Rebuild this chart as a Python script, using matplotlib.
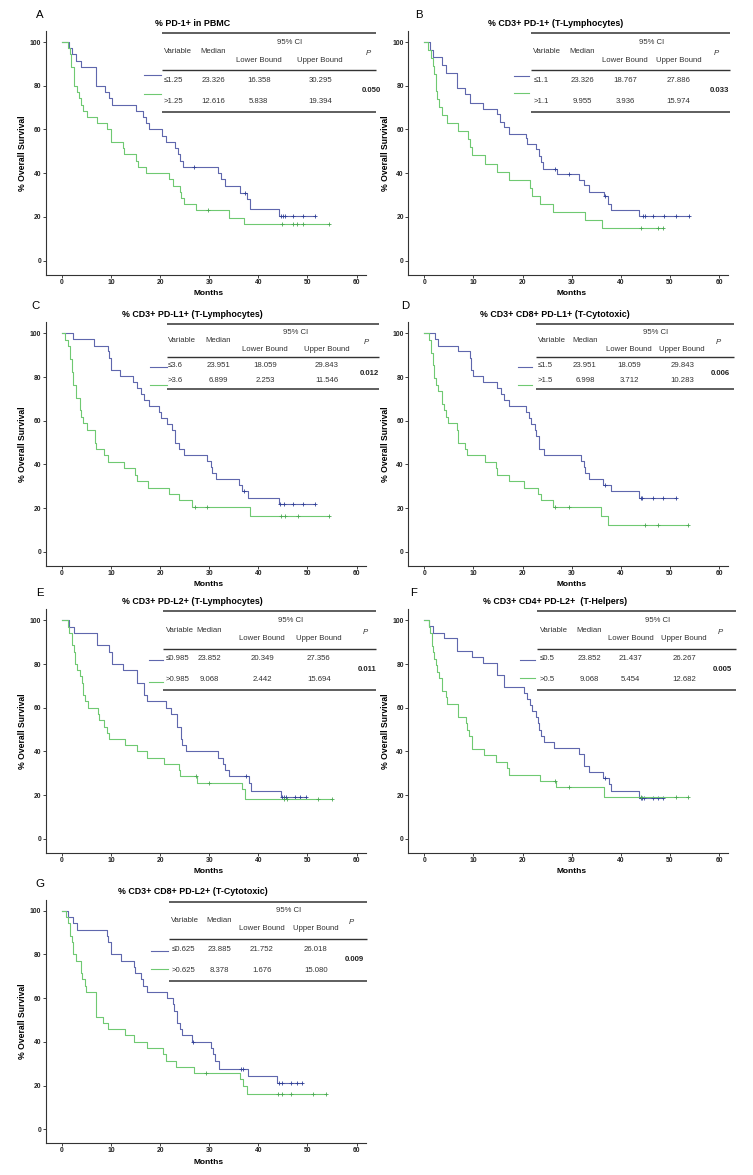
import numpy as np
import matplotlib.pyplot as plt

plt.rcParams['font.family'] = ['Liberation Sans', 'DejaVu Sans']

BLUE = '#5f67ad'
BLUE_DARK = '#2f3f96'
GREEN = '#6fc972'
GREEN_DARK = '#4aa852'

# ---------------- A: % PD-1+ in PBMC
a_title = '% PD-1+ in PBMC'
a_lo_t = [1.5, 2.0, 3.0, 3.9, 7.0, 8.9, 9.7, 10.2, 15.1, 16.5, 17.2, 17.7, 20.4, 21.3, 23.1,
          23.7, 24.0, 24.7, 31.8, 32.5, 33.2, 36.3, 37.6, 38.3, 44.3]
a_lo_s = [97.1, 94.3, 91.4, 88.6, 80.0, 77.1, 74.3, 71.4, 68.6, 65.7, 62.9, 60.0, 57.1, 54.3, 51.4,
          48.6, 45.7, 42.9, 40.0, 37.1, 34.0, 31.0, 28.0, 23.5, 20.5]
a_lo_cens = [26.9, 37.2, 44.6, 45.1, 45.4, 47.0, 49.0, 51.5]
a_hi_t = [1.2, 1.6, 1.8, 2.4, 3.1, 3.5, 3.9, 4.4, 5.1, 7.2, 9.3, 10.0, 12.4, 12.6, 15.1, 15.5,
          17.2, 21.8, 22.6, 24.0, 24.3, 24.9, 27.3, 34.1, 37.0]
a_hi_s = [97.1, 94.3, 88.6, 80.0, 77.1, 74.3, 71.4, 68.6, 65.7, 62.9, 60.0, 54.3, 51.4, 48.6, 45.7,
          42.9, 40.0, 37.1, 34.3, 31.4, 28.6, 25.7, 22.9, 19.5, 16.5]
a_hi_cens = [29.8, 44.8, 47.0, 47.9, 49.1, 54.3]
a_rows = [['≤1.25', '23.326', '16.358', '30.295'], ['>1.25', '12.616', '5.838', '19.394']]
a_p = '0.050'

# ---------------- B: % CD3+ PD-1+ (T-Lymphocytes)
b_title = '% CD3+ PD-1+ (T-Lymphocytes)'
b_lo_t = [1.1, 1.8, 3.7, 4.4, 6.6, 8.3, 9.4, 11.9, 14.9, 15.4, 16.3, 17.3, 20.7, 21.0, 22.8,
          23.4, 23.7, 24.1, 27.1, 31.5, 32.5, 33.6, 36.5, 37.4, 38.0, 43.7]
b_lo_s = [96.5, 93.0, 89.5, 86.0, 79.0, 76.0, 72.1, 69.5, 67.0, 63.5, 61.0, 58.0, 56.0, 53.5, 51.0,
          48.0, 45.0, 42.0, 39.5, 37.0, 34.5, 31.5, 29.5, 26.0, 23.0, 20.4]
b_lo_cens = [26.6, 29.4, 36.8, 44.6, 44.9, 46.6, 48.7, 51.2, 53.9]
b_hi_t = [0.7, 1.4, 1.7, 2.0, 2.4, 2.7, 3.05, 3.7, 4.7, 6.8, 9.0, 9.3, 9.7, 12.3, 14.8, 17.2,
          21.5, 22.0, 23.5, 26.1, 32.7, 36.1]
b_hi_s = [96.3, 92.6, 88.9, 85.2, 77.8, 74.1, 70.4, 66.7, 63.0, 59.3, 55.6, 51.9, 48.1, 44.4, 40.7,
          37.0, 33.3, 29.6, 25.9, 22.2, 18.5, 14.8]
b_hi_cens = [44.1, 47.5, 48.6]
b_rows = [['≤1.1', '23.326', '18.767', '27.886'], ['>1.1', '9.955', '3.936', '15.974']]
b_p = '0.033'

# ---------------- C: % CD3+ PD-L1+ (T-Lymphocytes)
c_title = '% CD3+ PD-L1+ (T-Lymphocytes)'
c_lo_t = [2.3, 6.6, 9.4, 9.6, 10.0, 11.9, 14.6, 15.3, 16.2, 16.7, 17.7, 19.7, 20.1, 21.4, 22.5,
          23.0, 23.1, 23.8, 24.8, 29.6, 30.3, 30.6, 31.3, 36.1, 36.6, 37.9, 44.2]
c_lo_s = [97.2, 94.4, 91.7, 88.9, 83.3, 80.6, 77.8, 75.0, 72.2, 69.4, 66.7, 63.9, 61.1, 58.3, 55.6,
          52.8, 50.0, 47.2, 44.4, 41.7, 38.9, 36.1, 33.3, 30.6, 27.8, 24.5, 21.7]
c_lo_cens = [37.1, 44.5, 45.3, 47.0, 49.1, 51.5]
c_hi_t = [0.6, 1.3, 1.6, 2.0, 2.3, 3.0, 3.7, 4.0, 4.4, 5.1, 6.8, 7.0, 8.5, 9.4, 12.6, 14.9, 15.3,
          17.5, 21.8, 23.8, 26.6, 38.3]
c_hi_s = [97.1, 94.1, 88.2, 82.4, 76.5, 70.6, 64.7, 61.8, 58.8, 55.9, 50.0, 47.1, 44.1, 41.2, 38.2,
          35.3, 32.4, 29.4, 26.5, 23.5, 20.6, 16.5]
c_hi_cens = [27.1, 29.6, 44.6, 45.5, 48.1, 54.4]
c_rows = [['≤3.6', '23.951', '18.059', '29.843'], ['>3.6', '6.899', '2.253', '11.546']]
c_p = '0.012'

# ---------------- D: % CD3+ CD8+ PD-L1+ (T-Cytotoxic)
d_title = '% CD3+ CD8+ PD-L1+ (T-Cytotoxic)'
d_lo_t = [2.2, 2.9, 6.8, 9.3, 9.6, 10.0, 11.9, 14.9, 15.6, 16.3, 17.3, 20.7, 21.4, 21.7, 22.6,
          22.8, 23.3, 23.4, 24.4, 31.9, 32.5, 32.8, 33.6, 36.3, 38.0, 43.7]
d_lo_s = [97.2, 94.4, 91.7, 88.9, 83.3, 80.6, 77.8, 75.0, 72.2, 69.4, 66.7, 63.9, 61.1, 58.3, 55.6,
          52.8, 50.0, 47.2, 44.4, 41.7, 38.9, 36.1, 33.3, 30.6, 27.8, 24.5]
d_lo_cens = [36.7, 44.1, 44.4, 46.6, 48.6, 51.2]
d_hi_t = [1.0, 1.4, 1.7, 2.0, 2.4, 2.9, 3.7, 4.1, 4.4, 4.9, 6.6, 6.8, 8.3, 8.7, 12.3, 14.7, 14.9,
          17.2, 20.2, 23.2, 23.7, 26.2, 35.9, 37.4]
d_hi_s = [97.1, 91.2, 85.3, 79.4, 76.5, 73.5, 67.6, 64.7, 61.8, 58.8, 55.9, 50.0, 47.1, 44.1, 41.2,
          38.2, 35.3, 32.4, 29.4, 26.5, 23.5, 20.6, 16.5, 12.4]
d_hi_cens = [26.6, 29.4, 45.0, 47.5, 53.7]
d_rows = [['≤1.5', '23.951', '18.059', '29.843'], ['>1.5', '6.998', '3.712', '10.283']]
d_p = '0.006'

# ---------------- E: % CD3+ PD-L2+ (T-Lymphocytes)
e_title = '% CD3+ PD-L2+ (T-Lymphocytes)'
e_lo_t = [1.4, 2.4, 7.1, 9.6, 10.3, 12.5, 15.4, 16.7, 17.4, 21.3, 22.2, 23.4, 24.2, 24.5, 25.2,
          31.8, 32.9, 33.2, 34.0, 38.1, 38.6, 44.7]
e_lo_s = [97.1, 94.3, 88.6, 85.7, 80.0, 77.1, 71.4, 65.7, 62.9, 60.0, 57.1, 51.4, 45.7, 42.9, 40.0,
          37.1, 34.3, 31.4, 28.6, 25.7, 22.1, 19.0]
e_lo_cens = [37.4, 44.9, 45.3, 45.7, 47.5, 48.4, 49.6]
e_hi_t = [1.2, 1.5, 2.0, 2.4, 2.6, 3.2, 3.7, 4.1, 4.4, 4.7, 5.4, 7.3, 7.5, 8.6, 9.3, 9.6, 12.8,
          15.4, 17.4, 20.8, 23.9, 24.1, 27.5, 36.7, 37.2]
e_hi_s = [97.1, 94.3, 88.6, 85.7, 80.0, 77.1, 74.3, 71.4, 65.7, 62.9, 60.0, 57.1, 54.3, 51.4, 48.6,
          45.7, 42.9, 40.0, 37.1, 34.3, 31.4, 28.6, 25.7, 22.9, 18.3]
e_hi_cens = [27.3, 30.0, 45.2, 45.8, 52.1, 55.0]
e_rows = [['≤0.985', '23.852', '20.349', '27.356'], ['>0.985', '9.068', '2.442', '15.694']]
e_p = '0.011'

# ---------------- F: % CD3+ CD4+ PD-L2+ (T-Helpers)
f_title = '% CD3+ CD4+ PD-L2+  (T-Helpers)'
f_lo_t = [1.0, 1.8, 4.1, 6.6, 9.8, 12.0, 14.9, 16.3, 20.3, 21.0, 21.5, 21.9, 22.7, 23.1, 23.4,
          23.7, 24.4, 26.4, 31.5, 32.5, 33.6, 36.3, 37.6, 38.0, 43.7]
f_lo_s = [97.2, 94.4, 91.7, 86.1, 83.3, 80.6, 75.0, 69.4, 66.7, 63.9, 61.1, 58.3, 55.6, 52.8, 50.0,
          47.2, 44.4, 41.7, 38.9, 33.3, 30.6, 27.8, 25.0, 21.7, 18.6]
f_lo_cens = [36.8, 44.1, 44.4, 44.7, 46.6, 47.5, 48.6]
f_hi_t = [0.9, 1.2, 1.6, 1.8, 2.0, 2.4, 2.7, 3.05, 3.7, 4.4, 4.7, 6.8, 8.5, 8.8, 9.2, 9.8, 12.2,
          14.7, 16.9, 17.3, 23.6, 26.8, 36.5]
f_hi_s = [97.1, 94.1, 88.2, 85.3, 82.4, 79.4, 76.5, 73.5, 67.6, 64.7, 61.8, 55.9, 52.9, 50.0, 47.1,
          41.2, 38.2, 35.3, 32.4, 29.4, 26.5, 23.5, 19.3]
f_hi_cens = [26.6, 29.4, 44.2, 51.2, 53.7]
f_rows = [['≤0.5', '23.852', '21.437', '26.267'], ['>0.5', '9.068', '5.454', '12.682']]
f_p = '0.005'

# ---------------- G: % CD3+ CD8+ PD-L2+ (T-Cytotoxic)
g_title = '% CD3+ CD8+ PD-L2+ (T-Cytotoxic)'
g_lo_t = [1.3, 2.3, 3.2, 9.3, 9.5, 10.1, 12.1, 14.8, 15.0, 16.2, 16.5, 17.3, 21.4, 22.7, 22.9,
          23.5, 24.0, 24.4, 26.5, 30.4, 30.7, 31.1, 31.9, 37.8, 43.8]
g_lo_s = [97.1, 94.3, 91.4, 88.6, 85.7, 80.0, 77.1, 74.3, 71.4, 68.6, 65.7, 62.9, 60.0, 57.1, 54.3,
          48.6, 45.7, 42.9, 40.0, 37.1, 34.3, 31.4, 27.5, 24.3, 21.0]
g_lo_cens = [26.8, 36.5, 36.9, 44.2, 44.9, 46.6, 47.8, 48.9]
g_hi_t = [0.9, 1.3, 1.6, 2.0, 2.3, 3.0, 3.9, 4.1, 4.7, 5.0, 6.9, 7.0, 8.4, 9.5, 12.8, 14.8, 17.3,
          20.6, 21.2, 23.3, 26.9, 36.3, 36.8, 37.6]
g_hi_s = [97.1, 94.3, 88.6, 85.7, 80.0, 77.1, 71.4, 68.6, 65.7, 62.9, 57.1, 51.4, 48.6, 45.7, 42.9,
          40.0, 37.1, 34.3, 31.4, 28.6, 25.7, 22.9, 20.0, 16.0]
g_hi_cens = [29.4, 44.1, 44.9, 46.6, 51.2, 53.7]
g_rows = [['≤0.625', '23.885', '21.752', '26.018'], ['>0.625', '8.378', '1.676', '15.080']]
g_p = '0.009'

panels = [
    ('A', a_title, a_lo_t, a_lo_s, a_lo_cens, a_hi_t, a_hi_s, a_hi_cens, a_rows, a_p),
    ('B', b_title, b_lo_t, b_lo_s, b_lo_cens, b_hi_t, b_hi_s, b_hi_cens, b_rows, b_p),
    ('C', c_title, c_lo_t, c_lo_s, c_lo_cens, c_hi_t, c_hi_s, c_hi_cens, c_rows, c_p),
    ('D', d_title, d_lo_t, d_lo_s, d_lo_cens, d_hi_t, d_hi_s, d_hi_cens, d_rows, d_p),
    ('E', e_title, e_lo_t, e_lo_s, e_lo_cens, e_hi_t, e_hi_s, e_hi_cens, e_rows, e_p),
    ('F', f_title, f_lo_t, f_lo_s, f_lo_cens, f_hi_t, f_hi_s, f_hi_cens, f_rows, f_p),
    ('G', g_title, g_lo_t, g_lo_s, g_lo_cens, g_hi_t, g_hi_s, g_hi_cens, g_rows, g_p),
]

# layout (pixels): axes left, axes top, letter x offset (axes fraction)
W, H = 753, 1175
AX_W, AX_H = 320, 243.4
pos = {'A': (45.5, 31.1, -0.017), 'B': (408, 31.1, 0.034),
       'C': (45.5, 322.4, -0.030), 'D': (408, 322.4, -0.009),
       'E': (45.5, 609.4, -0.017), 'F': (408, 609.4, 0.016),
       'G': (45.5, 899.8, -0.017)}

# table columns in data x: x0, x1, var, median, lower, upper, p, legend x0, legend x1
cols = {'A': (20.4, 64.0, 20.8, 30.8, 40.1, 52.6, 62.9, 16.8, 20.2),
        'B': (21.8, 62.2, 22.2, 32.1, 40.9, 51.7, 60.0, 18.3, 21.4),
        'C': (21.4, 64.6, 21.6, 31.9, 41.4, 53.9, 62.5, 18.0, 21.4),
        'D': (22.7, 63.0, 23.1, 32.7, 41.7, 52.5, 60.3, 19.0, 21.9),
        'E': (20.7, 64.0, 21.2, 30.0, 40.8, 52.3, 62.2, 17.8, 20.7),
        'F': (23.0, 63.5, 23.5, 33.6, 42.0, 52.9, 60.7, 19.5, 22.6),
        'G': (21.9, 62.2, 22.3, 32.1, 40.7, 51.7, 59.5, 18.2, 21.6)}

# table rows in data y: top, ci, var, bounds, mid, row1, row2, pval, bottom
rows_std = (104.2, 99.9, 95.5, 91.7, 87.1, 82.3, 72.7, 77.6, 67.9)
rows_cmp = (104.1, 100.5, 96.5, 92.8, 89.0, 85.3, 78.6, 81.7, 74.5)
legy = {'A': (84.7, 76.2), 'B': (84.5, 76.5), 'C': (84.4, 76.3), 'D': (84.4, 76.3),
        'E': (81.7, 71.8), 'F': (81.8, 73.7), 'G': (81.7, 73.3)}


def km(ax, t, s, cens, color, ccolor):
    tt = np.r_[0, t, max(cens[-1], t[-1])]
    ss = np.r_[100, s, s[-1]]
    ax.plot(tt, ss, drawstyle='steps-post', color=color, lw=0.8)
    idx = np.searchsorted(tt, cens, side='right') - 1
    ax.plot(cens, ss[idx], '+', color=ccolor, ms=3, mew=0.6, ls='none')


fig = plt.figure(figsize=(W / 100, H / 100), dpi=100)

for letter, title, lo_t, lo_s, lo_c, hi_t, hi_s, hi_c, trows, pval in panels:
    left, top, lx = pos[letter]
    ax = fig.add_axes([left / W, 1 - (top + AX_H) / H, AX_W / W, AX_H / H])
    km(ax, lo_t, lo_s, lo_c, BLUE, BLUE_DARK)
    km(ax, hi_t, hi_s, hi_c, GREEN, GREEN_DARK)
    ax.set_xlim(-3.3, 61.8)
    ax.set_ylim(-6.4, 105)
    ax.set_xticks(range(0, 61, 10))
    ax.set_yticks(range(0, 101, 20))
    for sp in ['top', 'right']:
        ax.spines[sp].set_visible(False)
    for sp in ['left', 'bottom']:
        ax.spines[sp].set_color('#333333')
        ax.spines[sp].set_linewidth(0.8)
    ax.tick_params(direction='out', length=2, width=0.6, pad=1, labelsize=4.9, colors='#222222')
    for lab in ax.get_xticklabels() + ax.get_yticklabels():
        lab.set_fontweight('bold')

    ax.text(-22.5 / AX_W, 0.5, '% Overall Survival', transform=ax.transAxes, rotation=90,
            ha='center', va='center', fontsize=6.2, fontweight='bold')
    ax.text(0.51, -19 / AX_H, 'Months', transform=ax.transAxes, ha='center', va='center',
            fontsize=6, fontweight='bold')
    ax.text(0.46, 1 + 8 / AX_H, title, transform=ax.transAxes, ha='center', va='center',
            fontsize=6.4, fontweight='bold')
    ax.text(lx, 1 + 16 / AX_H, letter, transform=ax.transAxes, ha='center', va='center',
            fontsize=8.2)

    # summary table
    x0, x1, xv, xm, xl, xu, xp, gx0, gx1 = cols[letter]
    ry = rows_cmp if letter in ('C', 'D') else rows_std
    y_top, y_ci, y_var, y_bd, y_mid, y_r1, y_r2, y_p, y_bot = ry
    kw = dict(clip_on=False, color='#333333', solid_capstyle='butt')
    ax.plot([x0, x1], [y_top, y_top], lw=1.1, **kw)
    ax.plot([x0, x1], [y_mid, y_mid], lw=1.0, **kw)
    ax.plot([x0, x1], [y_bot, y_bot], lw=1.1, **kw)
    fs = 5.6
    tc = '#333333'
    ax.text((xl + xu) / 2, y_ci, '95% CI', ha='center', va='center', fontsize=fs, color=tc)
    ax.text(xv, y_var, 'Variable', ha='left', va='center', fontsize=fs, color=tc)
    ax.text(xm, y_var, 'Median', ha='center', va='center', fontsize=fs, color=tc)
    ax.text(xl, y_bd, 'Lower Bound', ha='center', va='center', fontsize=fs, color=tc)
    ax.text(xu, y_bd, 'Upper Bound', ha='center', va='center', fontsize=fs, color=tc)
    ax.text(xp - 0.5, (y_var + y_bd) / 2 + 1, 'P', ha='center', va='center', fontsize=fs,
            style='italic', color=tc)
    for r, yy in zip(trows, (y_r1, y_r2)):
        ax.text(xv, yy, r[0], ha='left', va='center', fontsize=fs, color=tc)
        ax.text(xm, yy, r[1], ha='center', va='center', fontsize=fs, color=tc)
        ax.text(xl, yy, r[2], ha='center', va='center', fontsize=fs, color=tc)
        ax.text(xu, yy, r[3], ha='center', va='center', fontsize=fs, color=tc)
    ax.text(xp, y_p, pval, ha='center', va='center', fontsize=fs, fontweight='bold', color='#222222')
    ax.plot([gx0, gx1], [legy[letter][0]] * 2, color=BLUE, lw=0.8, clip_on=False)
    ax.plot([gx0, gx1], [legy[letter][1]] * 2, color=GREEN, lw=0.8, clip_on=False)

fig.savefig('out.png', dpi=100)
